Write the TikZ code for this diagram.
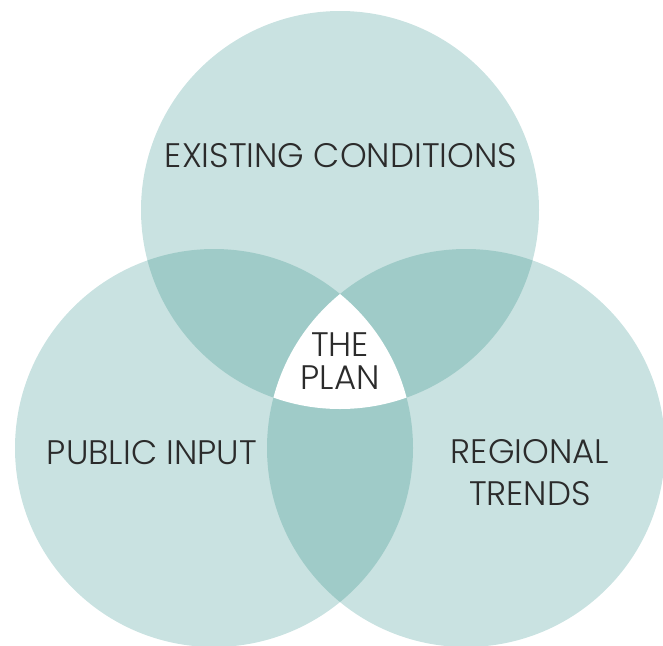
\documentclass[tikz,border=0pt]{standalone}
\usepackage{fontspec}
\setmainfont{Poppins}[UprightFont=* Light]
\definecolor{venlight}{HTML}{C9E2E1}
\definecolor{vendark}{HTML}{9FCBC8}
\definecolor{ventext}{HTML}{2B2B2B}
\begin{document}
\begin{tikzpicture}[x=1pt,y=-1pt,
  label/.style={text=ventext,font=\fontsize{34}{33}\selectfont,align=center,inner sep=0pt}]
  \clip (0,0) rectangle (663,645);
  \coordinate (ctop) at (340,210);
  \coordinate (cleft) at (214,448);
  \coordinate (cright) at (466,448);
  \def\rr{199pt}
  % base discs
  \fill[venlight] (ctop) circle[radius=\rr];
  \fill[venlight] (cleft) circle[radius=\rr];
  \fill[venlight] (cright) circle[radius=\rr];
  % pairwise overlaps
  \begin{scope}
    \clip (ctop) circle[radius=\rr];
    \fill[vendark] (cleft) circle[radius=\rr];
    \fill[vendark] (cright) circle[radius=\rr];
  \end{scope}
  \begin{scope}
    \clip (cleft) circle[radius=\rr];
    \fill[vendark] (cright) circle[radius=\rr];
  \end{scope}
  % common centre
  \begin{scope}
    \clip (ctop) circle[radius=\rr];
    \clip (cleft) circle[radius=\rr];
    \fill[white] (cright) circle[radius=\rr];
  \end{scope}
  % labels
  \node[label] (existing) at (341,156) {EXISTING CONDITIONS};
  \node[label] (plan) at (340,361) {THE\\PLAN};
  \node[label] (public) at (152,453) {PUBLIC INPUT};
  \node[label,font=\fontsize{34}{42}\selectfont] (regional) at (530,473) {REGIONAL\\TRENDS};
\end{tikzpicture}
\end{document}
